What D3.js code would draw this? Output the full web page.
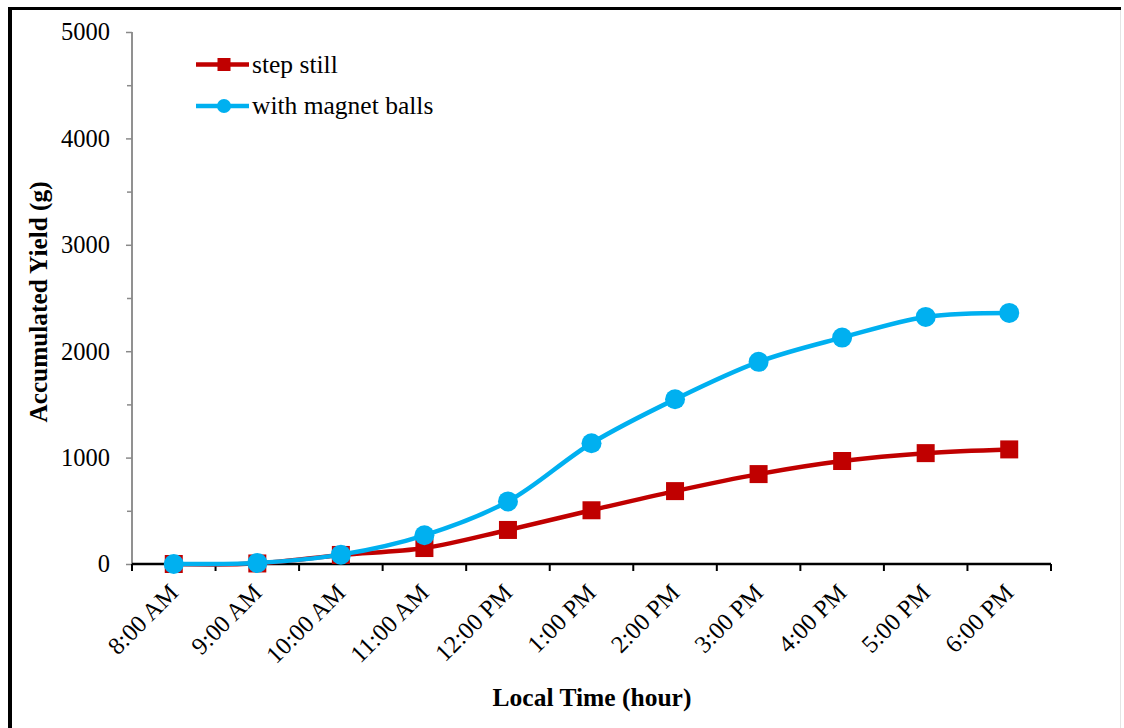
<!DOCTYPE html>
<html>
<head>
<meta charset="utf-8">
<script src="https://cdn.jsdelivr.net/npm/d3@7"></script>
<style>
  html, body { margin: 0; padding: 0; background: #fff; }
  svg { display: block; }
  text { font-family: "Liberation Serif", "Times New Roman", serif; fill: #000; }
</style>
</head>
<body>
<svg id="chart" width="1124" height="728"></svg>
<script>
const categories = ["8:00 AM","9:00 AM","10:00 AM","11:00 AM","12:00 PM","1:00 PM","2:00 PM","3:00 PM","4:00 PM","5:00 PM","6:00 PM"];
const stepStill = [0, 5, 85, 150, 320, 505, 685, 845, 968, 1042, 1077];
const magnetBalls = [0, 10, 88, 270, 588, 1135, 1548, 1900, 2128, 2322, 2360];
const yTicks = [0, 1000, 2000, 3000, 4000, 5000];
const yMinorTicks = [500, 1500, 2500, 3500, 4500];
const seriesNames = ["step still", "with magnet balls"];

(function () {
const svg = d3.select("#chart");
const W = 1124, H = 728;
const mL = 132, mR = 1051, mT = 32, mB = 564;

// frame
svg.append("line").attr("x1", 10).attr("x2", 10).attr("y1", 7).attr("y2", H).attr("stroke", "#000").attr("stroke-width", 4);
svg.append("line").attr("x1", 8).attr("x2", 1121).attr("y1", 8.5).attr("y2", 8.5).attr("stroke", "#000").attr("stroke-width", 3);
svg.append("line").attr("x1", 1120.5).attr("x2", 1120.5).attr("y1", 10).attr("y2", H).attr("stroke", "#e4e4e4").attr("stroke-width", 1);

const x = d3.scaleBand().domain(categories).range([mL, mR]).padding(0);
const y = d3.scaleLinear().domain([0, 5000]).range([mB, mT]);

// Y axis (gray)
const yAxisG = svg.append("g").attr("transform", `translate(${mL},0)`);
yAxisG.call(d3.axisLeft(y).tickValues(yTicks).tickSize(6).tickPadding(16).tickFormat(d3.format("d")));
yAxisG.append("g").call(d3.axisLeft(y).tickValues(yMinorTicks).tickSize(5).tickFormat(""));
yAxisG.selectAll(".domain").attr("stroke", "#8a8a8a").attr("stroke-width", 1.5).attr("d", `M0,${mT}V${mB}`);
yAxisG.selectAll(".tick line").attr("stroke", "#8a8a8a").attr("stroke-width", 1.5);
yAxisG.selectAll(".tick text").attr("font-family", "Liberation Serif, serif").attr("font-size", 24.5).attr("fill", "#000");

// X axis (black), ticks at band boundaries
const xAxisG = svg.append("g").attr("transform", `translate(0,${mB})`);
xAxisG.append("line").attr("x1", mL).attr("x2", mR).attr("y1", 0).attr("y2", 0).attr("stroke", "#000").attr("stroke-width", 2.5);
const boundaries = categories.map(c => x(c)).concat([x(categories[categories.length - 1]) + x.bandwidth()]);
xAxisG.selectAll("line.tk").data(boundaries).enter().append("line").attr("class", "tk")
  .attr("x1", d => d).attr("x2", d => d).attr("y1", 0).attr("y2", 7).attr("stroke", "#000").attr("stroke-width", 2);
xAxisG.selectAll("text.lbl").data(categories).enter().append("text").attr("class", "lbl")
  .attr("text-anchor", "end")
  .attr("font-size", 24.5)
  .attr("transform", d => `translate(${x(d) + x.bandwidth() / 2 + 6},${30}) rotate(-45)`)
  .text(d => d);

// Lines
const cx = (d, i) => x(categories[i]) + x.bandwidth() / 2;
const line = d3.line().x(cx).y(d => y(d)).curve(d3.curveCatmullRom.alpha(0.5));

svg.append("path").datum(stepStill).attr("d", line).attr("fill", "none").attr("stroke", "#C00000").attr("stroke-width", 4.5);
svg.selectAll("rect.sq").data(stepStill).enter().append("rect").attr("class", "sq")
  .attr("x", (d, i) => cx(d, i) - 9).attr("y", d => y(d) - 9).attr("width", 18).attr("height", 18).attr("fill", "#C00000");

svg.append("path").datum(magnetBalls).attr("d", line).attr("fill", "none").attr("stroke", "#00B0F0").attr("stroke-width", 4.5);
svg.selectAll("circle.ci").data(magnetBalls).enter().append("circle").attr("class", "ci")
  .attr("cx", (d, i) => cx(d, i)).attr("cy", d => y(d)).attr("r", 10).attr("fill", "#00B0F0");

// Legend
const legend = svg.append("g");
const legItems = [
  { name: seriesNames[0], color: "#C00000", shape: "square", y: 64.5 },
  { name: seriesNames[1], color: "#00B0F0", shape: "circle", y: 106 }
];
legItems.forEach(it => {
  legend.append("line").attr("x1", 196).attr("x2", 249).attr("y1", it.y).attr("y2", it.y).attr("stroke", it.color).attr("stroke-width", 4.5);
  if (it.shape === "square") {
    legend.append("rect").attr("x", 224 - 6.5).attr("y", it.y - 6.5).attr("width", 13).attr("height", 13).attr("fill", it.color);
  } else {
    legend.append("circle").attr("cx", 224).attr("cy", it.y).attr("r", 7).attr("fill", it.color);
  }
  legend.append("text").attr("x", 252).attr("y", it.y + 8).attr("font-size", 25.5).text(it.name);
});

// Axis titles
svg.append("text").attr("x", 592).attr("y", 706).attr("text-anchor", "middle").attr("font-size", 25.5).attr("font-weight", "bold").text("Local Time (hour)");
svg.append("text").attr("transform", `translate(47,302) rotate(-90)`).attr("text-anchor", "middle").attr("font-size", 25.3).attr("font-weight", "bold").text("Accumulated Yield (g)");
})();
</script>
</body>
</html>
